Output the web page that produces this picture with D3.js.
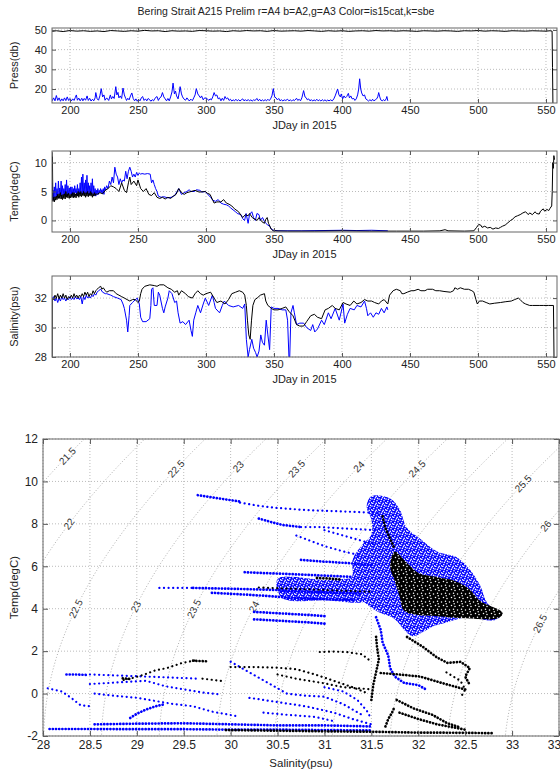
<!DOCTYPE html>
<html>
<head>
<meta charset="utf-8">
<script src="https://cdn.jsdelivr.net/npm/d3@7"></script>
<style>
body { margin: 0; background: #fff; }
</style>
</head>
<body>
<svg width="560" height="772"></svg>
<script>
// ---- time series data: [JDay, value] ----
var dayTicks = [200, 250, 300, 350, 400, 450, 500, 550];

var pressBlack = [[186.9,49.3],[190,49.6],[195,49.2],[200,49.7],[205,49.4],[210,49.6],[215,49.3],[220,49.5],[225,49.2],[230,49.7],[235,49.5],[240,49.3],[245,49.6],[250,49.4],[255,49.8],[260,49.5],[265,49.6],[270,49.2],[275,49.6],[280,49.4],[285,49.5],[290,49.3],[295,49.7],[300,49.6],[305,49.4],[310,49.5],[315,49.2],[320,49.6],[325,49.4],[330,49.7],[335,49.5],[340,49.6],[345,49.3],[350,49.7],[355,49.4],[360,49.5],[365,49.6],[370,49.4],[375,49.7],[380,49.5],[385,49.3],[390,49.6],[395,49.4],[400,49.6],[405,49.3],[410,49.5],[415,49.6],[420,49.4],[425,49.7],[430,49.5],[435,49.6],[440,49.4],[445,49.6],[450,49.5],[455,49.3],[460,49.6],[465,49.5],[470,49.4],[475,49.6],[480,49.5],[485,49.3],[490,49.6],[495,49.5],[500,49.7],[505,49.4],[510,49.6],[515,49.5],[520,49.3],[525,49.6],[530,49.5],[535,49.4],[540,49.6],[545,49.5],[550,49.4],[553,49.6],[554.5,49.4],[554.8,31],[555.1,12.9]];

var pressBlue = [[186.9,14],[188,15.5],[189,14],[190,16.7],[191,14.2],[192,15.5],[193,13.8],[194,15],[195,14],[196,15.5],[197,14.1],[198,16],[199,14.2],[200,15.2],[201,13.9],[202,15],[203,14.2],[204,15.8],[204.7,17],[205.5,14.3],[206.5,15.4],[207.5,14],[208.7,15.3],[209.5,14],[210.5,15.2],[211.5,14.3],[212.6,16.5],[213.5,14.2],[214.5,15.3],[215.5,13.9],[216.6,14.8],[217.5,14],[218.5,15.5],[219,18.2],[220,15],[221,14.3],[222,16.5],[223,20.2],[224,16],[225,17],[225.8,14.3],[227,15.5],[228.5,14.2],[229.7,17],[230.5,15],[231.5,16.2],[232.5,15.2],[233.7,21.2],[234.5,17],[235.3,18.3],[236,15.5],[237,16.5],[238,15.2],[239,20.5],[240,17],[241,15.2],[241.6,14.2],[242.5,15.3],[243.5,14.5],[244.5,16.5],[245.5,18],[246.5,15.2],[247.5,14],[248.5,15],[249.5,13.8],[250.5,14.8],[251.5,14],[252.5,15.5],[253.4,16.2],[254.5,14.2],[255.5,15],[256.5,14],[257.5,15.2],[258.7,14.5],[259.5,13.8],[260.5,14.6],[261.5,14],[262.5,15.3],[264,16.2],[265,14.2],[266,15.5],[267,16],[268,18.2],[269,16],[270,15],[271,14],[272,15.2],[273,14],[274,16],[275,18.5],[275.8,23],[276.8,17.5],[277.6,19],[278.4,16.5],[279.5,15],[280.3,18],[281,21.2],[282,17.5],[282.8,16],[283.7,15],[285,14.3],[286,15.5],[287.6,14],[289,14.8],[290,14.1],[291,15.5],[292,17],[292.9,20.2],[294,17.5],[295,16.5],[296,15.5],[296.8,16.5],[298,14.5],[299,15.5],[300.8,15.2],[302,14.2],[303,15],[304,14.5],[305,16],[306,18.2],[307,16.5],[308,17],[309,15],[310,15.5],[311,14],[312,15.3],[313,14.2],[314,16.2],[315,15],[316,15.5],[317,14.2],[318,14.8],[319,13.9],[320,14.5],[321,14],[322,14.8],[323,14],[324,14.6],[325,13.9],[326,14.5],[327,15],[328,14],[329,14.6],[330,13.9],[331,14.7],[332,14],[333,14.5],[334,13.9],[335,14.5],[336,14.2],[337.6,15.2],[338.5,14],[339.5,14.8],[340.5,13.9],[341.5,14.5],[342.5,14],[343.5,14.6],[344.5,14],[345.5,14.8],[346.5,14.1],[347.5,15],[348.5,16.5],[349.5,20.2],[350.5,16],[351.5,15.5],[352.5,14.5],[353.5,15.2],[354.5,14],[355.5,14.6],[356.5,13.9],[357.5,14.5],[358.7,14.2],[360,14.8],[361,14],[362,14.5],[363,13.9],[364,14.6],[365,14.1],[366.6,15.3],[367.5,14.2],[368.5,14.8],[369.5,14],[370.5,15.5],[371.8,19.2],[372.8,16],[373.8,15.5],[374.5,14.5],[375.5,15],[376.5,14],[377.5,14.6],[378.5,13.9],[379.5,14.5],[380.5,14],[381.5,14.8],[382.5,14],[383.5,14.5],[384.5,13.9],[385.5,14.6],[386.5,14],[387.5,14.5],[388.5,13.9],[389.5,14.4],[390.5,14],[391.5,14.5],[392.9,14],[394,15],[395,16.5],[396.8,20],[397.8,17],[398.8,16],[399.5,17.5],[400.5,15],[401.5,16.5],[402.5,15.5],[403.5,16.2],[404.7,17.8],[405.5,15.5],[406.5,16.5],[407.5,15],[408.7,15.2],[409.5,14.2],[410.5,15],[411.5,17],[412.3,20],[413,25.2],[413.8,20],[414.5,18],[415.5,16.5],[416.6,17],[417.5,15],[418.5,14.5],[419.5,13.9],[420.5,14.5],[421.8,14],[422.5,14.8],[423.5,14],[424.5,14.5],[425.5,15],[426.3,16],[427,18.2],[427.8,16],[428.5,14.5],[429.7,14],[430.5,14.6],[431.5,14],[432.5,15],[433,16.2],[433.7,14]];

var tempBlue = [[186.9,6.5],[187.2,3.6],[187.6,5.2],[188,3.5],[188.5,5.8],[189,3.9],[189.5,6.5],[190,4.2],[190.5,5.5],[191,4.0],[191.5,6.8],[192,4.5],[192.5,5.6],[193,4.2],[193.5,6.8],[194,4],[194.5,6.0],[195,4.3],[195.5,5.5],[196,4.5],[196.5,6.2],[197,4.1],[197.5,7.0],[198,4.2],[198.5,6.0],[199,4.4],[199.5,5.6],[200,4.5],[200.5,5.8],[201,4.3],[201.5,5.8],[202,4.3],[202.5,5.5],[203,4.4],[203.5,6.0],[204,4.8],[204.5,5.5],[205,4.4],[205.5,6.2],[206,4.4],[206.5,5.5],[207,4.6],[207.5,6.5],[208,4.6],[208.5,7.5],[209,4.5],[209.5,8],[210,4.5],[210.5,6.5],[211,4.6],[211.5,7],[212,4.6],[212.5,7.8],[213,4.6],[213.5,6.5],[214,4.4],[214.5,6.0],[215,4.4],[215.5,6.5],[216,4.5],[216.5,7.2],[217,4.5],[217.5,6.0],[218,4.3],[218.5,5.5],[219,4.2],[219.5,5.2],[220,4.5],[220.5,5.5],[221,4.5],[221.5,5.2],[222,4.8],[222.5,5.5],[223,4.8],[223.5,5.3],[224,4.6],[224.5,5.5],[225,4.5],[225.5,5.8],[226,5.2],[227,6],[228,5.5],[229,6.8],[230,6.2],[231,7.5],[232,6.5],[233,9.2],[234,8],[235,7.5],[236,6.2],[237,7.2],[238,6.5],[239,7],[240,6.8],[241,8.5],[242,7.2],[243,8.5],[244,9.2],[245,8.5],[246,7.5],[247,8],[248,7.5],[249,8.3],[250,7.8],[251,8.2],[252,8],[253,8.1],[255,8],[257,8.1],[259,8],[260,6.5],[261,7],[262,6.2],[263,5.5],[264,5],[265,4.2],[267,4],[269,4.1],[272,3.9],[274.5,4],[277,4.3],[280,5.5],[282,4.5],[284,4.8],[286,5],[287.6,5.3],[289,5],[291.6,5],[293,5.3],[295.5,5.2],[297,4.9],[299.5,5],[301,4.6],[303.4,4],[305,3.5],[307,3.3],[309,3.6],[311,3],[313,2.8],[315,2.7],[316.6,2.5],[318,2.2],[320,1.8],[321.8,1.5],[323,1.2],[325.8,1],[327,0.3],[328.4,0],[329.5,1.2],[331,-0.5],[332,1],[333.7,1.5],[335,0.5],[336.3,0],[337.5,1.2],[339,1],[340,0],[341.6,0.5],[343,-0.2],[344,-0.5],[345.5,-0.8],[346.8,-1],[348,-1.5],[349.5,-1.7],[353,-1.8],[370,-1.8],[400.8,-1.7],[411,-1.75],[421.8,-1.7],[433.7,-1.8]];

var tempBlack = [[186.9,11.8],[187,8.5],[187.1,11],[187.2,9],[187.4,3.3],[188,4.0],[188.5,3.2],[189,4.1],[189.5,3.5],[190,4.2],[190.5,3.6],[191,4.5],[191.5,3.8],[192,4.6],[192.5,3.8],[193,4.8],[193.5,3.7],[194,4.4],[194.5,3.6],[195,4.5],[195.5,3.8],[196,4.6],[196.5,3.7],[197,5],[197.5,4],[198,4.6],[198.5,3.9],[199,4.7],[199.5,3.8],[200,4.5],[200.5,3.9],[201,4.6],[201.5,4],[202,4.8],[202.5,3.9],[203,4.8],[203.5,4],[204,4.6],[204.5,3.9],[205,4.7],[205.5,4.2],[206,5],[206.5,4],[207,4.8],[207.5,4.2],[208,5],[208.5,4.1],[209,4.7],[209.5,4.3],[210,5],[210.5,4.2],[211,4.8],[211.5,4],[212,4.8],[212.5,4.2],[213,5],[213.5,4.1],[214,4.7],[214.5,4.3],[215,5],[215.5,4.2],[216,4.8],[216.5,4],[217,4.6],[217.5,4.2],[218,4.8],[218.5,4.3],[219,4.6],[220,4.5],[222,4.8],[224,4.6],[226,5.2],[228,5.5],[230,6],[232,5.8],[234,5.5],[236,5],[238,6.5],[240,5.2],[241.6,4.8],[243,6.5],[244,7.5],[245,6.2],[247,6.8],[249,6],[250,7],[252,5.5],[254,5],[256,5.5],[258,4.5],[260,4.3],[262,4.8],[264,4],[266,3.8],[268,4],[270,3.7],[272,4],[274,3.8],[276,4.2],[278,4.5],[280,5.5],[282,4.8],[284,4.5],[286,4.8],[289,5],[292,5.2],[295,4.9],[299.5,5],[301,4.7],[303,4.5],[305,3.5],[306,3],[308,3.2],[311,3.2],[313,3.6],[315,3],[317,2.8],[319,2.5],[321,2],[324,1.5],[326,0.8],[327,0.5],[329,1],[331,0.8],[332,1.2],[334,0.5],[336,0.2],[337.6,0],[339,0.5],[341,-0.2],[343,-0.5],[344,0.2],[345,0.5],[346,-0.5],[348,-1.5],[349.5,-1.8],[360,-1.85],[380,-1.85],[400,-1.8],[420,-1.85],[440,-1.85],[460,-1.85],[472,-1.8],[475.8,-1.6],[478,-1.8],[490,-1.85],[497,-1.8],[499,-1.2],[500.5,-0.7],[502,-0.8],[503,-1.2],[505,-1.0],[507,-1.3],[509,-1.2],[511,-1.5],[513,-1.3],[515,-1.4],[516.5,-1.2],[518,-1.0],[520,-0.8],[522,-0.4],[524,0],[526,0.3],[527,0.6],[529,0.8],[531,1],[533,1.3],[535,1.5],[537,1.0],[538,1.3],[540,1.0],[542,1.5],[543,1.2],[545,1.1],[546,1.6],[548,2],[549,1.6],[550.8,1.9],[552,1.7],[553,2.1],[554.2,2.5],[554.6,5],[555,10],[555.4,9],[555.8,11.2],[556.3,10.5]];

var salBlue = [[187.2,32.0],[188,32.1],[189,31.8],[190,32.0],[191,31.7],[192,32.0],[193,31.8],[194,32.1],[195,31.9],[196,32.0],[197,31.8],[198,32.0],[199,31.9],[200,32.1],[201,31.9],[202,32.0],[203,31.9],[204,32.1],[205,31.95],[206,32.0],[207,31.9],[208,32.1],[209,31.6],[210,32.1],[211,31.9],[212,32.2],[213,32.0],[214,32.1],[215,32.0],[216,32.2],[217,32.1],[218,32.3],[219,32.2],[220,32.4],[221,32.5],[222.6,32.6],[224,32.4],[226,32.3],[227,32.3],[230,32.2],[232,32.1],[235,32.0],[237.6,31.9],[239,31.6],[240,31.3],[241.6,30.5],[242.5,29.7],[243.5,30.8],[244,31.5],[246,31.7],[247,31.8],[249.5,32.0],[251,31.6],[252,30.7],[253.4,30.4],[256,30.4],[258.7,30.6],[259.5,31.5],[260,32.6],[261,32.7],[262,31.5],[264,31.5],[265,32.4],[266,32.2],[268,31.3],[269,31.0],[270,31.4],[272,32.0],[273,32.5],[275,32.3],[277,31.7],[278.4,31.8],[279.5,31.0],[281,30.3],[283,30.4],[285,30.2],[287.6,30.5],[289,29.8],[290,29.4],[291,30.5],[292.5,31.0],[294,31.5],[296,31.0],[298,31.6],[299.5,32.0],[302,31.5],[304.7,32.2],[306,31.7],[307,31.3],[310,31.0],[312,31.5],[313.5,31.8],[316.6,31.5],[320,31.4],[324,31.5],[327,31.3],[328.5,31.6],[329.7,29.2],[331,28.0],[332,28.5],[333.7,29.2],[335,28.6],[336.5,28.3],[337.6,28.0],[339,28.4],[340.3,29.5],[341.5,29.0],[343,28.8],[344.3,30.5],[345.5,29.5],[346.8,28.5],[348,31.4],[350,31.3],[353,31.3],[356,31.2],[358.7,31.2],[360,30.5],[361,28.0],[361.6,28.0],[362.5,31.0],[364,31.5],[365,31.0],[366.6,30.2],[369,30.3],[371.8,30.3],[374,30.0],[377,29.8],[378.5,30.2],[380,29.7],[382,29.9],[385,30.5],[387,30.2],[390,31.0],[392,30.6],[395,31.3],[398,30.5],[400.8,31.6],[402,30.3],[404,30.9],[406,31.3],[409,31.2],[411,31.5],[414,31.4],[416.6,31.8],[418,31.3],[419,30.8],[421,31.0],[423,30.7],[425,31.0],[427,30.9],[429,31.3],[431,31.0],[433,31.4],[433.7,31.2]];

var salBlack = [[186.9,28],[187,32],[188,31.9],[189,32.2],[190,32],[191,32.3],[192,31.95],[193,32.2],[194,32],[195,32.3],[196,32],[197,32.2],[198,31.9],[199,32.1],[200,32],[201,32.2],[202,32],[203,32.3],[204,32.05],[205,32.2],[206,32],[207,32.2],[208,32.1],[209,32.3],[210,32.1],[211,32.4],[212,32.2],[213,32.4],[214,32.1],[215,32.3],[216,32.2],[217,32.5],[218,32.3],[219,32.5],[220,32.6],[221,32.7],[222.6,32.8],[223.5,32.6],[224.5,32.7],[226,32.5],[227,32.4],[229,32.5],[232,32.5],[234,32.3],[236,32.2],[238,32.1],[240,32.0],[242,31.9],[244,31.8],[246,31.9],[248,31.9],[250,31.7],[251,31.8],[252,32.3],[253,32.6],[255,32.8],[258.7,32.9],[262,32.85],[264,32.8],[266,32.9],[269,32.9],[272,32.7],[274.5,32.6],[277,32.4],[279,32.5],[280,32.2],[282,32.5],[285,32.3],[287,32.1],[290,32.0],[292,32.3],[294,32.5],[296,32.3],[298,32.2],[300,32.3],[303.4,32.4],[306,32.0],[308,31.7],[311,31.8],[314,31.6],[316.6,31.9],[319,32.3],[321.8,32.4],[324.5,32.5],[327,32.4],[328.5,32.2],[329.7,31.5],[330.5,30.5],[331.5,29.5],[332.5,29.2],[333.5,30.5],[334.5,31.5],[336,31.9],[337.6,32.0],[340,32.2],[343,32.3],[344,31.8],[345.5,31.5],[347,31.4],[348,31.3],[350,31.2],[353,31.2],[356,31.3],[358.7,31.4],[361,31.1],[364,30.8],[366.6,30.2],[369,30.1],[371.8,30.1],[374,30.4],[377,30.8],[379.7,30.9],[382,30.7],[385,30.6],[387.6,31.2],[390,31.3],[392.9,31.5],[395,31.3],[398,31.2],[400.8,31.7],[403,31.6],[406,31.5],[408.7,31.8],[411,31.6],[414,31.7],[416.6,31.9],[419,31.8],[421.8,31.8],[424,31.7],[427,31.6],[429,31.8],[431,31.9],[433.7,31.6],[435,32.2],[437.6,32.5],[440,32.6],[442.9,32.5],[444,32.3],[445.5,32.3],[448,32.4],[450.8,32.5],[453,32.5],[456,32.6],[458,32.5],[461,32.5],[463,32.6],[466.6,32.6],[469,32.5],[471.8,32.5],[475,32.45],[479.7,32.4],[482,32.5],[483,32.7],[485,32.6],[487,32.7],[490,32.6],[493,32.6],[495.5,32.5],[497,32.4],[498.5,31.9],[499.5,31.6],[501,31.8],[503.4,31.8],[506,31.7],[508.7,31.6],[512,31.65],[516.6,31.7],[520,31.75],[524.5,31.8],[527,31.9],[529.7,32.0],[531,31.9],[533,31.7],[535,31.6],[538,31.5],[540,31.5],[545,31.5],[548,31.5],[552,31.5],[555.5,31.5],[555.9,28]];

// ---- T-S diagram data: [salinity, temp] ----
var sigmaLevels = [21.5, 22, 22.5, 23, 23.5, 24, 24.5, 25, 25.5, 26, 26.5];
// contour labels: [sigma, temp where label sits]
var sigmaLabels = [[21.5,11.2],[22,8.0],[22.5,10.6],[22.5,4.0],[23,10.7],[23,4.1],[23.5,10.6],[23.5,4.0],[24,10.7],[24,4.1],[24.5,10.6],[25.5,9.9],[26,7.9],[26.5,3.3]];

var tsBlueBlob = [[31.5,9.3],[31.7,9.2],[31.8,8.7],[31.88,7.8],[32.02,7.3],[32.2,6.7],[32.4,6.45],[32.52,6.0],[32.66,5.1],[32.73,4.3],[32.87,3.65],[32.8,3.45],[32.52,3.6],[32.3,3.35],[32.15,3.15],[32.05,2.9],[31.94,2.7],[31.85,3.0],[31.75,3.5],[31.55,3.9],[31.4,4.4],[31.25,5.0],[31.3,5.6],[31.3,6.3],[31.4,7.0],[31.5,7.5],[31.5,8.2],[31.45,8.8]];
var tsBlueBlob2 = [[30.5,5.4],[31.0,5.35],[31.4,5.3],[31.45,4.4],[31.0,4.4],[30.55,4.5]];
var tsBlackBlob = [[31.75,6.7],[31.85,6.3],[32.0,5.7],[32.2,5.5],[32.4,5.3],[32.55,4.9],[32.65,4.4],[32.9,3.8],[32.85,3.55],[32.5,3.55],[32.2,3.65],[32.0,3.7],[31.85,3.9],[31.8,4.6],[31.75,5.3],[31.7,6.0]];

var tsBlueDense = [
  [[29.65,9.35],[29.8,9.25],[29.95,9.15],[30.1,9.05]],
  [[30.3,8.25],[30.42,8.1],[30.55,7.95],[30.75,7.85]],
  [[30.15,5.72],[30.35,5.68],[30.55,5.65],[30.8,5.6],[31.05,5.55],[31.3,5.5]],
  [[30.75,6.3],[31.0,6.22],[31.25,6.15],[31.5,6.05]],
  [[29.6,4.98],[29.9,4.95],[30.2,4.92],[30.5,4.88],[30.8,4.8],[31.1,4.75],[31.4,4.7]],
  [[29.8,4.75],[30.1,4.68],[30.4,4.6],[30.7,4.5],[31.0,4.45],[31.3,4.4]],
  [[30.25,3.85],[30.45,3.8],[30.65,3.75],[30.85,3.7],[31.0,3.65]],
  [[30.25,3.5],[30.45,3.45],[30.65,3.4],[30.85,3.35],[31.0,3.3]],
  [[28.25,0.9],[28.35,0.9],[28.47,0.88]],
  [[28.07,-1.67],[28.5,-1.67],[29.0,-1.68],[29.5,-1.68],[30.0,-1.7],[30.5,-1.7],[31.0,-1.72],[31.5,-1.74]],
  [[28.55,-1.45],[29.0,-1.42],[29.5,-1.4],[30.0,-1.45],[30.5,-1.5],[31.0,-1.5],[31.5,-1.55]],
  [[28.93,-1.15],[29.0,-0.95],[29.1,-0.75],[29.2,-0.6],[29.3,-0.5]],
  [[31.55,3.6],[31.6,3.0],[31.62,2.4],[31.68,1.8],[31.7,1.2],[31.75,0.8],[31.85,0.5],[32.0,0.4],[32.08,0.2]]
];

var tsBlueSparse = [
  [[30.1,9.0],[30.3,8.85],[30.5,8.75],[30.8,8.65],[31.1,8.6],[31.4,8.55],[31.6,8.5]],
  [[30.75,7.85],[30.95,7.85],[31.15,7.8],[31.35,7.75],[31.55,7.7]],
  [[30.7,7.45],[30.85,7.2],[31.0,6.95],[31.2,6.7],[31.4,6.5]],
  [[31.0,7.7],[31.2,7.45],[31.4,7.2],[31.55,7.0]],
  [[29.24,4.98],[29.4,4.98],[29.6,4.98]],
  [[28.5,0.9],[28.8,0.85],[29.1,0.8],[29.4,0.75],[29.65,0.7]],
  [[28.05,0.25],[28.2,0.1],[28.3,-0.2],[28.4,-0.55],[28.5,-0.6]],
  [[28.5,0.45],[28.7,0.5],[28.9,0.55],[29.1,0.6],[29.3,0.35],[29.5,0.2],[29.7,0.05],[29.9,-0.05]],
  [[28.55,0.0],[28.75,-0.1],[29.0,-0.2],[29.2,-0.35],[29.4,-0.5],[29.6,-0.6],[29.8,-0.85],[30.05,-1.05]],
  [[30.0,1.5],[30.2,1.0],[30.4,0.5],[30.6,0.0],[30.8,-0.1],[31.0,-0.15],[31.2,-0.5],[31.4,-1.0]],
  [[30.2,-0.2],[30.5,-0.4],[30.8,-0.6],[31.1,-0.9],[31.3,-1.2],[31.5,-1.45]],
  [[31.0,0.3],[31.2,0.1],[31.35,-0.3],[31.45,-0.8],[31.5,-1.2]],
  [[30.35,-0.9],[30.6,-1.0],[30.9,-1.1],[31.1,-1.3]]
];

var tsBlackDense = [
  [[29.95,-1.72],[30.5,-1.75],[31.0,-1.78],[31.5,-1.8],[32.0,-1.84],[32.5,-1.85],[32.8,-1.87]],
  [[31.5,-0.3],[31.52,0.4],[31.55,1.0],[31.58,1.6],[31.56,2.2],[31.55,2.7]],
  [[31.65,-1.55],[31.68,-1.2],[31.72,-0.9],[31.75,-0.6]],
  [[31.77,-0.3],[31.95,-0.7],[32.15,-1.0],[32.31,-1.4],[32.45,-1.6]],
  [[31.8,-0.9],[32.0,-1.2],[32.2,-1.45],[32.5,-1.7]],
  [[31.62,8.35],[31.65,7.8],[31.7,7.3],[31.75,6.8]],
  [[31.88,2.67],[32.05,2.2],[32.2,1.7],[32.31,1.45],[32.45,1.5],[32.55,1.2],[32.5,0.8],[32.55,0.4]],
  [[30.92,5.45],[31.05,5.42],[31.17,5.38]],
  [[29.6,1.55],[29.75,1.52]],
  [[28.85,0.72],[28.95,0.68]],
  [[31.6,0.97],[31.8,0.9],[32.02,0.8],[32.25,0.5],[32.52,0.17]]
];

var tsBlackSparse = [
  [[28.86,0.64],[28.96,0.74],[29.07,0.88],[29.2,1.1],[29.32,1.2],[29.48,1.44],[29.64,1.58]],
  [[30.0,1.25],[30.25,1.25],[30.5,1.22],[30.7,1.15],[30.9,0.9],[31.1,0.6],[31.3,0.3],[31.45,0.03]],
  [[30.95,1.96],[31.1,1.98],[31.25,1.95],[31.4,1.85],[31.5,1.5]],
  [[29.7,0.7],[29.8,0.65],[29.9,0.6]],
  [[30.5,0.9],[30.7,0.7],[30.98,0.5],[31.2,0.3],[31.5,0.2]],
  [[30.3,5.0],[30.6,4.95],[30.9,4.9],[31.2,4.85],[31.5,4.8]],
  [[32.3,1.0],[32.45,0.6],[32.5,0.2],[32.45,-0.2]]
];

var fontFamily = 'Arial, "Liberation Sans", Helvetica, sans-serif';
var svg = d3.select('svg');
var defs = svg.append('defs');

svg.append('text')
    .attr('x', 286).attr('y', 15)
    .attr('text-anchor', 'middle')
    .attr('font-family', fontFamily).attr('font-size', 10.5)
    .attr('fill', '#222')
    .text('Bering Strait A215 Prelim r=A4 b=A2,g=A3 Color=is15cat,k=sbe');

function styleAxis(g, size) {
    g.attr('font-family', fontFamily).attr('font-size', size);
    g.selectAll('.domain').remove();
    g.selectAll('line').attr('stroke', '#555');
    g.selectAll('text').attr('fill', '#222');
}

function drawBox(g, x0, y0, x1, y1) {
    g.append('rect')
        .attr('x', x0).attr('y', y0)
        .attr('width', x1 - x0).attr('height', y1 - y0)
        .attr('fill', 'none').attr('stroke', '#666').attr('stroke-width', 1);
}

// time series panel
function seriesPanel(id, top, bottom, yDomain, yTicks, yLabel, series) {
    var left = 52, right = 557;
    var x = d3.scaleLinear().domain([186.8, 558.1]).range([left, right]);
    var y = d3.scaleLinear().domain(yDomain).range([bottom, top]);
    var g = svg.append('g');

    defs.append('clipPath').attr('id', id)
        .append('rect').attr('x', left).attr('y', top)
        .attr('width', right - left).attr('height', bottom - top);

    // grid
    g.selectAll('line.gx').data(dayTicks).enter().append('line')
        .attr('x1', function(d){return x(d);}).attr('x2', function(d){return x(d);})
        .attr('y1', top).attr('y2', bottom)
        .attr('stroke', '#bbb').attr('stroke-dasharray', '1,2');
    g.selectAll('line.gy').data(yTicks).enter().append('line')
        .attr('x1', left).attr('x2', right)
        .attr('y1', function(d){return y(d);}).attr('y2', function(d){return y(d);})
        .attr('stroke', '#bbb').attr('stroke-dasharray', '1,2');

    var line = d3.line()
        .x(function(d){return x(d[0]);})
        .y(function(d){return y(d[1]);});

    series.forEach(function(s) {
        g.append('path').datum(s.data)
            .attr('clip-path', 'url(#' + id + ')')
            .attr('d', line)
            .attr('fill', 'none')
            .attr('stroke', s.color)
            .attr('stroke-width', 1)
            .attr('stroke-linejoin', 'round');
    });

    var ax = g.append('g').attr('transform', 'translate(0,' + bottom + ')')
        .call(d3.axisBottom(x).tickValues(dayTicks).tickSizeInner(-4).tickSizeOuter(0).tickPadding(3));
    styleAxis(ax, 11);
    var axt = g.append('g').attr('transform', 'translate(0,' + top + ')')
        .call(d3.axisTop(x).tickValues(dayTicks).tickSizeInner(-4).tickSizeOuter(0).tickFormat(''));
    styleAxis(axt, 11);
    var ay = g.append('g').attr('transform', 'translate(' + left + ',0)')
        .call(d3.axisLeft(y).tickValues(yTicks).tickSizeInner(-4).tickSizeOuter(0).tickPadding(5)
            .tickFormat(function(d){return String(d);}));
    styleAxis(ay, 11);
    var ayr = g.append('g').attr('transform', 'translate(' + right + ',0)')
        .call(d3.axisRight(y).tickValues(yTicks).tickSizeInner(-4).tickSizeOuter(0).tickFormat(''));
    styleAxis(ayr, 11);
    drawBox(g, left, top, right, bottom);

    g.append('text')
        .attr('x', (left + right) / 2).attr('y', bottom + 26)
        .attr('text-anchor', 'middle')
        .attr('font-family', fontFamily).attr('font-size', 11).attr('fill', '#222')
        .text('JDay in 2015');
    g.append('text')
        .attr('transform', 'translate(18,' + ((top + bottom) / 2) + ') rotate(-90)')
        .attr('text-anchor', 'middle')
        .attr('font-family', fontFamily).attr('font-size', 11).attr('fill', '#222')
        .text(yLabel);
}

seriesPanel('c1', 28, 103, [12.9, 51], [20, 30, 40, 50], 'Press(db)',
    [{data: pressBlue, color: '#0000ff'}, {data: pressBlack, color: '#000'}]);
seriesPanel('c2', 151, 232, [-2, 12], [0, 5, 10], 'Temp(degC)',
    [{data: tempBlue, color: '#0000ff'}, {data: tempBlack, color: '#000'}]);
seriesPanel('c3', 276, 357, [28, 33.5], [28, 30, 32], 'Salinity(psu)',
    [{data: salBlue, color: '#0000ff'}, {data: salBlack, color: '#000'}]);

// ---- T-S diagram ----
var tsLeft = 43, tsRight = 559, tsTop = 439, tsBottom = 736;
var sx = d3.scaleLinear().domain([28, 33.5]).range([tsLeft, tsRight]);
var ty = d3.scaleLinear().domain([-2, 12]).range([tsBottom, tsTop]);
var sTicks = d3.range(28, 33.51, 0.5);
var tTicks = d3.range(-2, 12.1, 2);

// UNESCO 1983 density at p=0, minus 1000
function sigma0(S, T) {
    var rw = 999.842594 + 6.793952e-2*T - 9.095290e-3*T*T + 1.001685e-4*Math.pow(T,3)
        - 1.120083e-6*Math.pow(T,4) + 6.536332e-9*Math.pow(T,5);
    var A = 8.24493e-1 - 4.0899e-3*T + 7.6438e-5*T*T - 8.2467e-7*Math.pow(T,3) + 5.3875e-9*Math.pow(T,4);
    var B = -5.72466e-3 + 1.0227e-4*T - 1.6546e-6*T*T;
    var C = 4.8314e-4;
    return rw + A*S + B*Math.pow(S,1.5) + C*S*S - 1000;
}
function salinityAt(sg, T) {
    var lo = 20, hi = 40;
    for (var i = 0; i < 50; i++) {
        var mid = (lo + hi) / 2;
        if (sigma0(mid, T) < sg) lo = mid; else hi = mid;
    }
    return (lo + hi) / 2;
}

defs.append('clipPath').attr('id', 'cts')
    .append('rect').attr('x', tsLeft).attr('y', tsTop)
    .attr('width', tsRight - tsLeft).attr('height', tsBottom - tsTop);

// speckled fills for the dense clusters
function speckle(id, color, size, holes, r) {
    var p = defs.append('pattern').attr('id', id)
        .attr('width', size).attr('height', size).attr('patternUnits', 'userSpaceOnUse');
    p.append('rect').attr('width', size).attr('height', size).attr('fill', color);
    holes.forEach(function(h) {
        p.append('circle').attr('cx', h[0]).attr('cy', h[1]).attr('r', r).attr('fill', '#fff');
    });
}
speckle('bluedots', '#0000ff', 7, [[1,2],[4.5,0.8],[2.8,4.6],[6,3.8],[5.2,6.3],[0.6,5.8],[3.4,2.4],[6.6,1.4],[1.8,6.6]], 0.8);
speckle('blackdots', '#000', 8, [[1.5,2],[5.5,1.2],[3.5,5.5],[7,6.5],[6.2,3.8]], 0.75);

var gts = svg.append('g');

gts.selectAll('line.gx').data(sTicks).enter().append('line')
    .attr('x1', function(d){return sx(d);}).attr('x2', function(d){return sx(d);})
    .attr('y1', tsTop).attr('y2', tsBottom)
    .attr('stroke', '#bbb').attr('stroke-dasharray', '1,2');
gts.selectAll('line.gy').data(tTicks).enter().append('line')
    .attr('x1', tsLeft).attr('x2', tsRight)
    .attr('y1', function(d){return ty(d);}).attr('y2', function(d){return ty(d);})
    .attr('stroke', '#bbb').attr('stroke-dasharray', '1,2');

var tsLine = d3.line()
    .x(function(d){return sx(d[0]);})
    .y(function(d){return ty(d[1]);});
var tsArea = d3.line()
    .x(function(d){return sx(d[0]);})
    .y(function(d){return ty(d[1]);})
    .curve(d3.curveCatmullRomClosed);

// density contours
var gc = gts.append('g').attr('clip-path', 'url(#cts)');
sigmaLevels.forEach(function(sg) {
    var pts = d3.range(-2.5, 12.6, 0.1).map(function(t){return [salinityAt(sg, t), t];});
    gc.append('path').datum(pts)
        .attr('d', tsLine)
        .attr('fill', 'none').attr('stroke', '#999')
        .attr('stroke-width', 0.8).attr('stroke-dasharray', '1,2');
});
sigmaLabels.forEach(function(l) {
    var s = salinityAt(l[0], l[1]);
    var p0 = [sx(salinityAt(l[0], l[1] - 0.3)), ty(l[1] - 0.3)];
    var p1 = [sx(salinityAt(l[0], l[1] + 0.3)), ty(l[1] + 0.3)];
    var ang = Math.atan2(p1[1] - p0[1], p1[0] - p0[0]) * 180 / Math.PI;
    gc.append('text')
        .attr('transform', 'translate(' + sx(s) + ',' + ty(l[1]) + ') rotate(' + ang + ')')
        .attr('text-anchor', 'middle').attr('dy', '0.35em')
        .attr('font-family', fontFamily).attr('font-size', 10)
        .attr('fill', '#333')
        .attr('stroke', '#fff').attr('stroke-width', 3).attr('paint-order', 'stroke')
        .text(String(l[0]));
});

// data
var gd = gts.append('g').attr('clip-path', 'url(#cts)');
[tsBlueBlob, tsBlueBlob2].forEach(function(poly) {
    gd.append('path').datum(poly)
        .attr('d', tsArea)
        .attr('fill', 'url(#bluedots)');
});

function drawTracks(list, color, dense) {
    list.forEach(function(tr) {
        var p = gd.append('path').datum(tr)
            .attr('d', tsLine)
            .attr('fill', 'none').attr('stroke', color)
            .attr('stroke-linecap', 'round').attr('stroke-linejoin', 'round');
        if (dense) {
            p.attr('stroke-width', 2.7).attr('stroke-dasharray', '0.1,3.1');
        } else {
            p.attr('stroke-width', 2.2).attr('stroke-dasharray', '0.1,4.5');
        }
    });
}
drawTracks(tsBlueSparse, '#0000ff', false);
drawTracks(tsBlueDense, '#0000ff', true);

gd.append('path').datum(tsBlackBlob)
    .attr('d', tsArea)
    .attr('fill', 'url(#blackdots)');
drawTracks(tsBlackSparse, '#000', false);
drawTracks(tsBlackDense, '#000', true);

var sx0 = gts.append('g').attr('transform', 'translate(0,' + tsBottom + ')')
    .call(d3.axisBottom(sx).tickValues(sTicks).tickSizeInner(-5).tickSizeOuter(0).tickPadding(4)
        .tickFormat(function(d){return String(d);}));
styleAxis(sx0, 12);
var sx1 = gts.append('g').attr('transform', 'translate(0,' + tsTop + ')')
    .call(d3.axisTop(sx).tickValues(sTicks).tickSizeInner(-5).tickSizeOuter(0).tickFormat(''));
styleAxis(sx1, 12);
var ty0 = gts.append('g').attr('transform', 'translate(' + tsLeft + ',0)')
    .call(d3.axisLeft(ty).tickValues(tTicks).tickSizeInner(-5).tickSizeOuter(0).tickPadding(5)
        .tickFormat(function(d){return String(d);}));
styleAxis(ty0, 12);
var ty1 = gts.append('g').attr('transform', 'translate(' + tsRight + ',0)')
    .call(d3.axisRight(ty).tickValues(tTicks).tickSizeInner(-5).tickSizeOuter(0).tickFormat(''));
styleAxis(ty1, 12);
drawBox(gts, tsLeft, tsTop, tsRight, tsBottom);

gts.append('text')
    .attr('x', (tsLeft + tsRight) / 2).attr('y', 767)
    .attr('text-anchor', 'middle')
    .attr('font-family', fontFamily).attr('font-size', 11.5).attr('fill', '#222')
    .text('Salinity(psu)');
gts.append('text')
    .attr('transform', 'translate(18,' + ((tsTop + tsBottom) / 2) + ') rotate(-90)')
    .attr('text-anchor', 'middle')
    .attr('font-family', fontFamily).attr('font-size', 11.5).attr('fill', '#222')
    .text('Temp(degC)');
</script>
</body>
</html>
